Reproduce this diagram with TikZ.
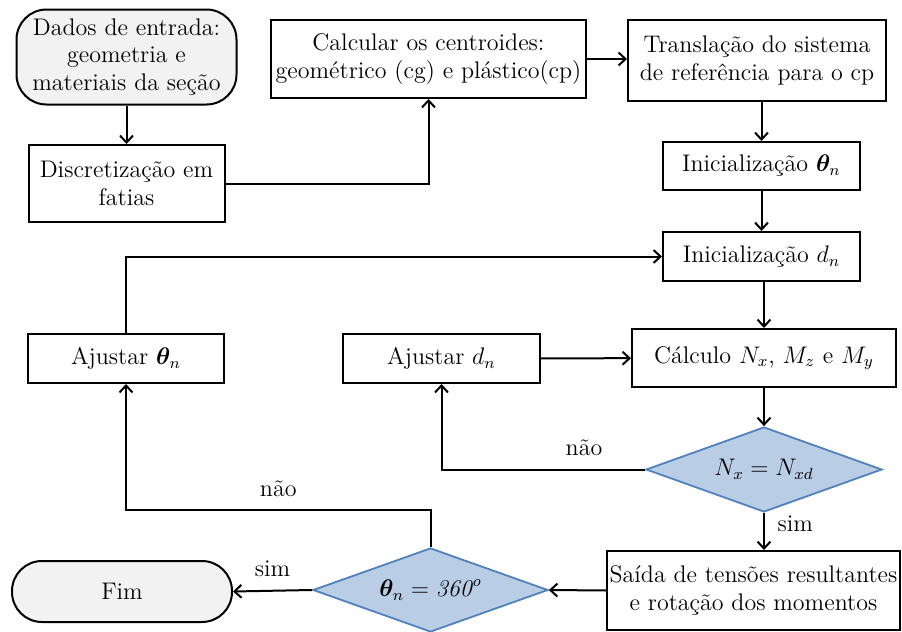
\documentclass[tikz,border=0pt]{standalone}
\usepackage{fontspec}
\usepackage{amsmath}
\usepackage{bm}
\usetikzlibrary{arrows.meta,shapes.geometric}
\definecolor{dfill}{HTML}{B9CDE5}
\definecolor{dline}{HTML}{4F81BD}
\definecolor{tfill}{HTML}{F2F2F2}
\begin{document}
\begin{tikzpicture}[x=0.5pt,y=-0.5pt,
  font=\fontsize{12}{13.8}\selectfont,
  box/.style={draw,line width=1pt,align=center,inner sep=0pt},
  term/.style={box,fill=tfill,rounded corners=15pt},
  dec/.style={diamond,aspect=3.2,draw=dline,fill=dfill,line width=0.9pt,inner sep=0pt,align=center},
  arr/.style={line width=1pt,-{Straight Barb[length=3.5pt,width=6.5pt]}}]
\useasboundingbox (0,0) rectangle (902,632);

\node[term,minimum width=110pt,minimum height=47.5pt] (dados) at (126.5,57) {Dados de entrada:\\ geometria e\\ materiais da seção};
\node[box,minimum width=98pt,minimum height=38.5pt] (disc) at (126.5,183.5) {Discretização em\\ fatias};
\node[box,minimum width=157.5pt,minimum height=39pt] (calc) at (428.5,59) {Calcular os centroides:\\ geométrico (cg) e plástico(cp)};
\node[box,minimum width=129pt,minimum height=40.5pt] (trans) at (757,60.5) {Translação do sistema\\ de referência para o cp};
\node[box,minimum width=98.5pt,minimum height=24pt] (tini) at (761.5,166) {Inicialização $\bm{\theta}_n$};
\node[box,minimum width=98.5pt,minimum height=24.5pt] (dini) at (761.5,256.5) {Inicialização $d_n$};
\node[box,minimum width=132pt,minimum height=29pt] (calcN) at (764,358) {Cálculo $N_x$, $M_z$ e $M_y$};
\node[box,minimum width=98.5pt,minimum height=24.5pt] (adjd) at (441.5,358.5) {Ajustar $d_n$};
\node[box,minimum width=98pt,minimum height=24.5pt] (adjt) at (126,358.5) {Ajustar $\bm{\theta}_n$};
\node[dec,minimum width=118pt,minimum height=42.5pt] (dec1) at (764,469.5) {$N_x = N_{xd}$};
\node[box,minimum width=146.5pt,minimum height=39.5pt] (said) at (753.5,590.5) {Saída de tensões resultantes\\ e rotação dos momentos};
\node[dec,minimum width=117.5pt,minimum height=42pt] (dec2) at (430.5,590) {$\bm{\theta}_n = \mathit{360}^{\mathit{o}}$};
\node[term,minimum width=110pt,minimum height=30.5pt] (fim) at (122,591.5) {Fim};

\draw[arr] (dados) -- (disc);
\draw[arr] (disc.east) -| (calc.south);
\draw[arr] (calc.east) -- (calc.east -| trans.west);
\draw[arr] (tini.north |- trans.south) -- (tini.north);
\draw[arr] (tini) -- (dini);
\draw[arr] (calcN.north |- dini.south) -- (calcN.north);
\draw[arr] (adjd) -- (calcN);
\draw[arr] (calcN) -- (dec1);
\draw[arr] (dec1.west) -| node[pos=0.15,above=3pt] (l1) {não} (adjd.south);
\draw[arr] (dec1.south) -- node[right=3pt,pos=0.3] (l2) {sim} (dec1.south |- said.north);
\draw[arr] (said.west) -- (dec2.east);
\draw[arr] (dec2.north) -- ++(0,-37) coordinate (c1) -| node[pos=0.25,above=3pt] (l3) {não} (adjt.south);
\draw[arr] (dec2.west) -- node[above=3pt] (l4) {sim} (fim.east);
\draw[arr] (adjt.north) |- (dini.west);
\end{tikzpicture}
\end{document}
